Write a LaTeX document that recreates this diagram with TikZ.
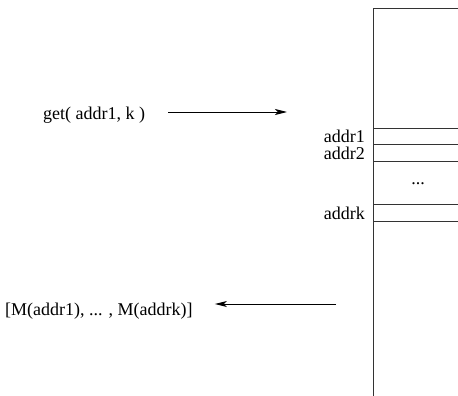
\documentclass[tikz,border=0pt]{standalone}
\usepackage{fontspec}
\setmainfont{Liberation Serif}
\usetikzlibrary{arrows.meta}
\begin{document}
\begin{tikzpicture}[x=1pt,y=-1pt,
  txt/.style={inner sep=0pt,font=\fontsize{18}{20}\selectfont},
  memline/.style={line width=0.9pt,draw=black!80},
  callarrow/.style={line width=1pt,-{Stealth[length=12pt,width=6pt,inset=3pt]}}]
  \useasboundingbox (0,0) rectangle (458,396);

  % memory column: top edge and left edge (runs off the page on the right)
  \draw[memline] (460,8) -- (373,8) -- (373,397);

  % memory cells
  \coordinate (c1t) at (373,128); \coordinate (c1b) at (373,144.5);
  \coordinate (c2t) at (373,144.5); \coordinate (c2b) at (373,161);
  \coordinate (ckt) at (373,204.5); \coordinate (ckb) at (373,221);
  \draw[memline] (c1t) -- ++(90,0);
  \draw[memline] (c1b) -- ++(90,0);
  \draw[memline] (c2b) -- ++(90,0);
  \draw[memline] (ckt) -- ++(90,0);
  \draw[memline] (ckb) -- ++(90,0);

  % cell labels
  \node[txt,anchor=east] (l1) at (365,136) {addr1};
  \node[txt,anchor=east] (l2) at (365,153) {addr2};
  \node[txt,anchor=east] (lk) at (365,213) {addrk};
  \node[txt] (dots) at (418,184) {...};

  % request and reply
  \node[txt,anchor=west] (get) at (43,115) {get( addr1, k )};
  \coordinate (getend) at (287,112);
  \draw[callarrow] (get.east |- getend) ++(23,0) -- (getend);

  \node[txt,anchor=west] (res) at (5,311) {[M(addr1), ... , M(addrk)]};
  \coordinate (resstart) at (336,304);
  \draw[callarrow] (resstart) -- ([xshift=22pt]res.east |- resstart);
\end{tikzpicture}
\end{document}
